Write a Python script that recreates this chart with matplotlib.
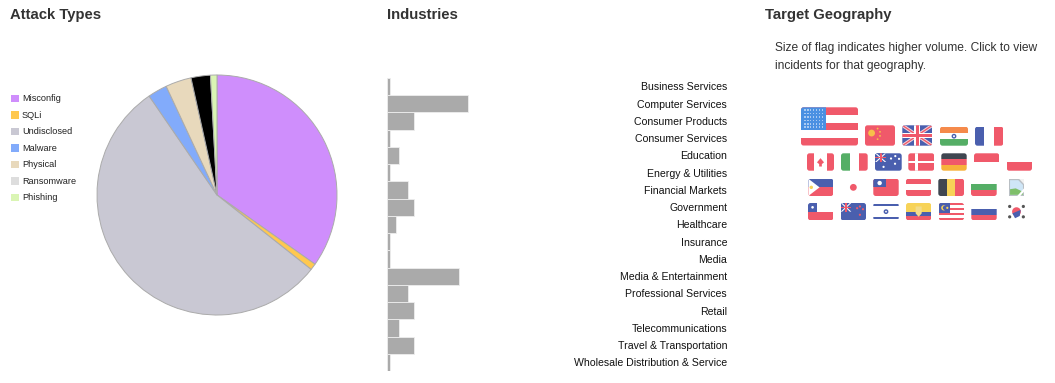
import matplotlib
matplotlib.use("Agg")
import matplotlib.pyplot as plt
from matplotlib.patches import Rectangle, FancyBboxPatch, Circle, Polygon
import numpy as np

W, H = 1055, 383
plt.rcParams['font.family'] = ['Liberation Sans', 'DejaVu Sans']

attack_types = ["Misconfig", "SQLi", "Undisclosed", "Malware", "Physical", "Ransomware", "Phishing"]
attack_counts = [40, 1, 63, 3, 4, 3, 1]
pie_colors = ["#CF8EFC", "#FFC84F", "#C9C8D3", "#82ABFB", "#E8D9BC", "#000000", "#DAF5B4"]
legend_colors = ["#CF8EFC", "#FFC84F", "#C9C8D3", "#82ABFB", "#E8D9BC", "#DDDDDD", "#DAF5B4"]

industries = ["Business Services", "Computer Services", "Consumer Products", "Consumer Services",
              "Education", "Energy & Utilities", "Financial Markets", "Government", "Healthcare",
              "Insurance", "Media", "Media & Entertainment", "Professional Services", "Retail",
              "Telecommunications", "Travel & Transportation", "Wholesale Distribution & Service"]
industry_counts = [1, 27, 9, 1, 4, 1, 7, 9, 3, 1, 1, 24, 7, 9, 4, 9, 1]

titles = ["Attack Types", "Industries", "Target Geography"]
geo_note = ["Size of flag indicates higher volume. Click to view", "incidents for that geography."]

RED, WHITE, BLUE, GREEN = "#F0596A", "#FFFFFF", "#4A5FAE", "#55AE66"
YEL, DARK, LBLUE = "#F7D358", "#3F4650", "#4A90E2"


def axes_px(fig, x0, y0, x1, y1, **kw):
    return fig.add_axes([x0 / W, 1 - y1 / H, (x1 - x0) / W, (y1 - y0) / H], **kw)


fig = plt.figure(figsize=(W / 100, H / 100), dpi=100)

ov = axes_px(fig, 0, 0, W, H)
ov.set_xlim(0, W)
ov.set_ylim(H, 0)
ov.axis("off")

ax_pie = axes_px(fig, 96, 74, 338, 316)
ax_pie.pie(attack_counts, colors=pie_colors, startangle=90, counterclock=False, radius=1,
           wedgeprops=dict(edgecolor="#ABABAB", linewidth=0.7))
ax_pie.set_xlim(-242 / 240, 242 / 240)
ax_pie.set_ylim(-242 / 240, 242 / 240)

ax_bar = axes_px(fig, 387, 78, 727, 371)
ypos = np.arange(len(industries))
ax_bar.barh(ypos, industry_counts, height=1.0, color="#AAAAAA", edgecolor="#EEEEEE", linewidth=0.6)
ax_bar.set_xlim(0, 340 / 3)
ax_bar.set_ylim(len(industries) - 0.5, -0.5)
ax_bar.axis("off")
for y, name in zip(ypos, industries):
    ax_bar.text(340 / 3, y + 0.05, name, ha="right", va="center", fontsize=7.6, color="#111111")

for x, t in zip([10, 387, 765], titles):
    ov.text(x, 19, t, fontsize=10.7, fontweight="bold", color="#333333", va="baseline")

for i, (name, col) in enumerate(zip(attack_types, legend_colors)):
    yc = 98.5 + i * 16.5
    ov.add_patch(Rectangle((11, yc - 3.7), 7.5, 7.5, fc=col, ec="none"))
    ov.text(22, yc + 0.3, name, fontsize=6.6, va="center", color="#222222")

for i, line in enumerate(geo_note):
    ov.text(775, 51 + i * 17.5, line, fontsize=8.65, color="#333333", va="baseline")


def flag(x0, y0, x1, y1, kind):
    w, h = x1 - x0, y1 - y0
    clip = FancyBboxPatch((x0 + 1.5, y0 + 1.5), w - 3, h - 3, boxstyle="round,pad=1.5,rounding_size=2.5",
                          fc="none", ec="none", transform=ov.transData)
    ov.add_patch(clip)
    items = []

    def R(a, b, c, d, col):
        items.append(Rectangle((x0 + a * w, y0 + b * h), (c - a) * w, (d - b) * h, fc=col, ec="none"))

    def P(pts, col):
        items.append(Polygon([(x0 + p * w, y0 + q * h) for p, q in pts], fc=col, ec="none"))

    def C(a, b, r, col):
        items.append(Circle((x0 + a * w, y0 + b * h), r, fc=col, ec="none"))

    def hstripes(cols):
        n = len(cols)
        for i, c in enumerate(cols):
            R(0, i / n, 1, (i + 1) / n, c)

    def vstripes(cols):
        n = len(cols)
        for i, c in enumerate(cols):
            R(i / n, 0, (i + 1) / n, 1, c)

    def jack(a, b):
        R(0, 0, a, b, BLUE)
        P([(0, 0), (0.06, 0), (a, b), (a - 0.06, b)], WHITE)
        P([(a, 0), (a - 0.06, 0), (0, b), (0.06, b)], WHITE)
        R(a * .42, 0, a * .58, b, RED)
        R(0, b * .42, a, b * .58, RED)

    if kind == "us":
        hstripes([RED, WHITE, RED, WHITE, RED])
        R(0, 0, 0.43, 0.6, LBLUE)
        for i in range(7):
            for j in range(6):
                R(0.05 + i * 0.052, 0.05 + j * 0.09, 0.08 + i * 0.052, 0.095 + j * 0.09, "#A9C9F2")
    elif kind == "cn":
        R(0, 0, 1, 1, RED)
        C(0.22, 0.38, 3.4, "#F7C04A")
        for a, b in [(0.42, 0.16), (0.5, 0.32), (0.5, 0.52), (0.42, 0.68)]:
            C(a, b, 0.9, "#F7C04A")
    elif kind == "uk":
        R(0, 0, 1, 1, BLUE)
        P([(0, 0), (0.1, 0), (1, 0.9), (1, 1), (0.9, 1), (0, 0.1)], "#F3D5DA")
        P([(1, 0), (0.9, 0), (0, 0.9), (0, 1), (0.1, 1), (1, 0.1)], "#F3D5DA")
        P([(0, 0), (0.04, 0), (1, 0.96), (1, 1), (0.96, 1), (0, 0.04)], RED)
        P([(1, 0), (0.96, 0), (0, 0.96), (0, 1), (0.04, 1), (1, 0.04)], RED)
        R(0.40, 0, 0.60, 1, WHITE)
        R(0, 0.38, 1, 0.62, WHITE)
        R(0.45, 0, 0.55, 1, RED)
        R(0, 0.44, 1, 0.56, RED)
    elif kind == "in":
        hstripes(["#F58A4B", WHITE, GREEN])
        C(0.5, 0.5, 2.4, BLUE)
        C(0.5, 0.5, 1.0, WHITE)
    elif kind == "fr":
        vstripes([BLUE, WHITE, RED])
    elif kind == "ca":
        R(0, 0, 1, 1, WHITE)
        R(0, 0, 0.27, 1, RED)
        R(0.73, 0, 1, 1, RED)
        P([(0.5, 0.28), (0.63, 0.52), (0.55, 0.62), (0.55, 0.76), (0.45, 0.76), (0.45, 0.62), (0.37, 0.52)], RED)
    elif kind == "it":
        vstripes([GREEN, WHITE, RED])
    elif kind in ("au", "nz"):
        R(0, 0, 1, 1, BLUE)
        jack(0.42, 0.5)
        stars = [(0.6, 0.3), (0.76, 0.16), (0.9, 0.32), (0.75, 0.6), (0.32, 0.78)] if kind == "au" else [(0.65, 0.3), (0.76, 0.2), (0.88, 0.36), (0.76, 0.68)]
        col = WHITE if kind == "au" else RED
        for a, b in stars:
            C(a, b, 1.1, col)
    elif kind == "dk":
        R(0, 0, 1, 1, RED)
        R(0.27, 0, 0.39, 1, WHITE)
        R(0, 0.43, 1, 0.57, WHITE)
    elif kind == "de":
        hstripes([DARK, RED, "#F7B23B"])
    elif kind == "id":
        hstripes([RED, WHITE])
    elif kind == "pl":
        hstripes([WHITE, RED])
    elif kind == "ph":
        R(0, 0, 1, 0.5, BLUE)
        R(0, 0.5, 1, 1, RED)
        P([(0, 0), (0.45, 0.5), (0, 1)], WHITE)
        C(0.12, 0.5, 1.7, YEL)
    elif kind == "jp":
        R(0, 0, 1, 1, WHITE)
        C(0.5, 0.5, 3.4, RED)
    elif kind == "tw":
        R(0, 0, 1, 1, RED)
        R(0, 0, 0.5, 0.5, BLUE)
        C(0.25, 0.25, 2.2, WHITE)
    elif kind == "at":
        hstripes([RED, WHITE, RED])
    elif kind == "be":
        vstripes([DARK, YEL, RED])
    elif kind == "bg":
        hstripes([WHITE, GREEN, RED])
    elif kind == "cl":
        R(0, 0, 1, 0.5, WHITE)
        R(0, 0.5, 1, 1, RED)
        R(0, 0, 0.36, 0.5, BLUE)
        C(0.18, 0.25, 1.3, WHITE)
    elif kind == "il":
        R(0, 0, 1, 1, WHITE)
        R(0, 0.08, 1, 0.2, BLUE)
        R(0, 0.8, 1, 0.92, BLUE)
        C(0.5, 0.5, 2.4, BLUE)
        C(0.5, 0.5, 0.9, WHITE)
    elif kind == "ec":
        R(0, 0, 1, 0.5, YEL)
        R(0, 0.5, 1, 0.75, BLUE)
        R(0, 0.75, 1, 1, RED)
        P([(0.38, 0.2), (0.62, 0.2), (0.62, 0.6), (0.5, 0.8), (0.38, 0.6)], "#F3DC8A")
    elif kind == "my":
        hstripes([RED, WHITE, RED, WHITE, RED, WHITE, RED])
        R(0, 0, 0.46, 0.57, BLUE)
        C(0.2, 0.28, 2.6, YEL)
        C(0.25, 0.28, 2.2, BLUE)
        C(0.34, 0.28, 1.1, YEL)
    elif kind == "ru":
        hstripes([WHITE, BLUE, RED])
    elif kind == "kr":
        R(0, 0, 1, 1, WHITE)
        C(0.5, 0.5, 4.4, RED)
        items.append(Polygon([(x0 + 0.27 * w, y0 + 0.6 * h), (x0 + 0.73 * w, y0 + 0.4 * h),
                              (x0 + 0.68 * w, y0 + 0.75 * h), (x0 + 0.42 * w, y0 + 0.88 * h)], fc=BLUE, ec="none"))
        for a, b in [(0.12, 0.2), (0.88, 0.2), (0.12, 0.8), (0.88, 0.8)]:
            C(a, b, 1.6, "#555555")
    elif kind == "broken":
        R(0, 0, 1, 1, "#F2F2F2")
        P([(0, 0), (0.68, 0), (1, 0.3), (1, 1), (0, 1)], "#B9BFC4")
        P([(0.07, 0.07), (0.62, 0.07), (0.93, 0.35), (0.93, 0.93), (0.07, 0.93)], "#CFE6F7")
        P([(0.07, 0.93), (0.07, 0.6), (0.45, 0.55), (0.93, 0.75), (0.93, 0.93)], "#7FBF6A")
        P([(0.55, 1), (1, 0.55), (1, 0.75), (0.75, 1)], WHITE)
    for it in items:
        ov.add_patch(it)
        if kind != "broken":
            it.set_clip_path(clip)


flag(801, 107.3, 858, 145.5, "us")
flag(865, 125.3, 895, 145.7, "cn")
flag(902.3, 125.3, 932.3, 145.7, "uk")
flag(940, 126.7, 968, 145.7, "in")
flag(975, 126.7, 1003.3, 145.7, "fr")
row2 = [(807, 834, "ca"), (841, 867.7, "it"), (875, 901.7, "au"), (908.3, 934.3, "dk"),
        (941.3, 966.7, "de"), (974, 999.3, "id"), (1006.7, 1032, "pl")]
for a, b, k in row2:
    flag(a, 153.3, b, 170.7, k)
row3 = [(808.3, 833.3, "ph"), (840, 866.7, "jp"), (873.3, 898.7, "tw"), (906, 931.3, "at"),
        (938.3, 964, "be"), (971, 996.7, "bg")]
for a, b, k in row3:
    flag(a, 178.7, b, 196, k)
flag(1009, 179, 1024, 196, "broken")
row4 = [(808, 833.3, "cl"), (840.7, 866, "nz"), (873.3, 898.7, "il"), (906, 931.3, "ec"),
        (938.7, 964, "my"), (971.3, 996.7, "ru"), (1007.5, 1025.5, "kr")]
for a, b, k in row4:
    flag(a, 203, b, 220.3, k)

fig.savefig("out.png", dpi=100)
